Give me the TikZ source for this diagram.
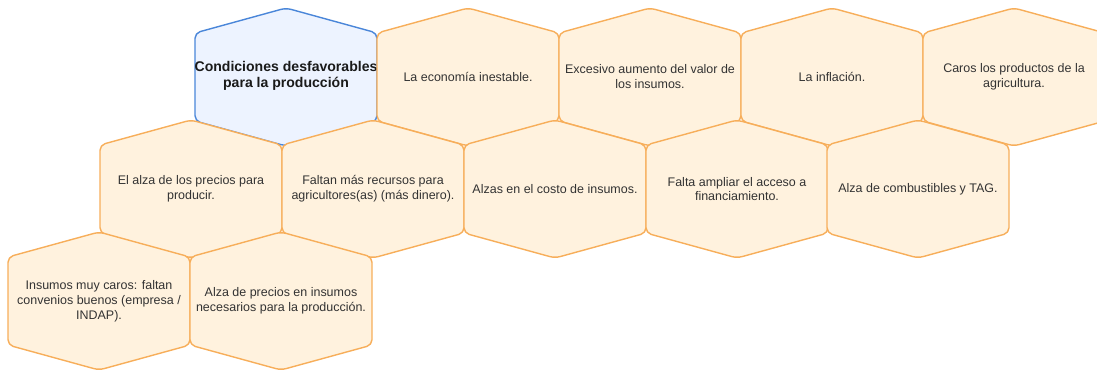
\documentclass[tikz,border=0pt]{standalone}
\usepackage{fontspec}
\setmainfont{Liberation Sans}
\definecolor{cellfill}{HTML}{FFF2DE}
\definecolor{celldraw}{HTML}{F7AE5A}
\definecolor{keyfill}{HTML}{EDF3FF}
\definecolor{keydraw}{HTML}{4A86D9}
\definecolor{celltxt}{HTML}{333333}
\definecolor{keytxt}{HTML}{1A1A1A}
\tikzset{
	cell/.style={draw=celldraw, fill=cellfill, line width=.8pt, rounded corners=3pt},
	keycell/.style={cell, draw=keydraw, fill=keyfill},
	celltext/.style={align=center, text=celltxt, inner sep=0pt,
		font=\fontsize{7.1}{8.5}\selectfont},
	keytext/.style={text=keytxt, font=\fontsize{8}{8.8}\selectfont\bfseries}
}
% one hexagon: style, name, centre x, centre y, text
\newcommand{\hexcell}[5][cell]{%
	\draw[#1, shift={(#3,#4)}] (0,-69) -- (91,-44) -- (91,44) -- (0,69)
		-- (-91,44) -- (-91,-44) -- cycle;
	\node[celltext] (#2) at (#3,#4) {#5};}
\begin{document}
\begin{tikzpicture}[x=0.02cm, y=-0.02cm, line join=round, line cap=round]
	\useasboundingbox (0,0) rectangle (1097,373);
	% first row
	\draw[keycell, shift={(286,77)}] (0,-69) -- (91,-44) -- (91,44) -- (0,69)
		-- (-91,44) -- (-91,-44) -- cycle;
	\node[celltext, keytext] (titulo) at (286,76) {Condiciones desfavorables\\para la producción};
	\hexcell{economia}{468}{77}{La economía inestable.}
	\hexcell{excesivo}{650}{77}{Excesivo aumento del valor de\\los insumos.}
	\hexcell{inflacion}{832}{77}{La inflación.}
	\hexcell{caros}{1014}{77}{Caros los productos de la\\agricultura.}
	% second row
	\hexcell{alza}{191}{189}{El alza de los precios para\\producir.}
	\hexcell{recursos}{373}{189}{Faltan más recursos para\\agricultores(as) (más dinero).}
	\hexcell{costo}{555}{189}{Alzas en el costo de insumos.}
	\hexcell{acceso}{737}{189}{Falta ampliar el acceso a\\financiamiento.}
	\hexcell{combustibles}{918}{189}{Alza de combustibles y TAG.}
	% third row
	\hexcell{convenios}{99}{301}{Insumos muy caros: faltan\\convenios buenos (empresa /\\INDAP).}
	\hexcell{necesarios}{281}{301}{Alza de precios en insumos\\necesarios para la producción.}
\end{tikzpicture}
\end{document}
